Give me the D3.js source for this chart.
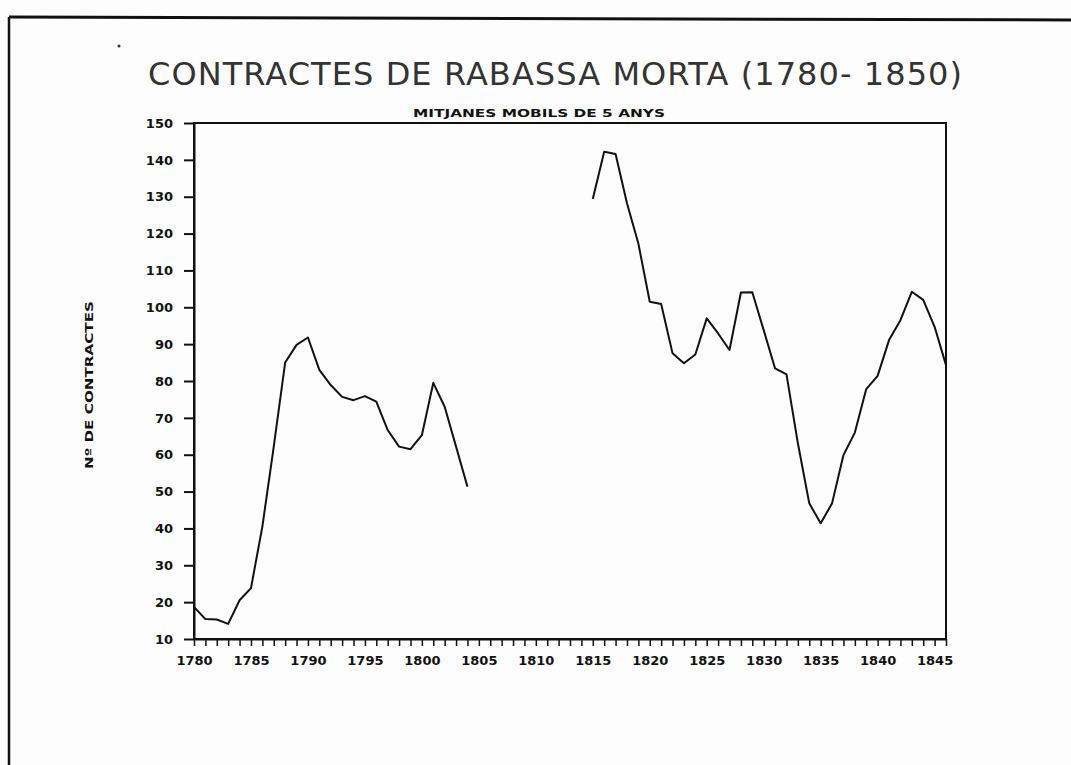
<!DOCTYPE html>
<html>
<head>
<meta charset="utf-8">
<script src="https://cdn.jsdelivr.net/npm/d3@7"></script>
<style>
  body { margin: 0; background: #fdfdfd; }
  svg { display: block; }
</style>
</head>
<body>
<div id="chart"></div>
<script>
// Data (5-year moving averages)
const years1 = [1780, 1781, 1782, 1783, 1784, 1785, 1786, 1787, 1788, 1789, 1790, 1791, 1792,
  1793, 1794, 1795, 1796, 1797, 1798, 1799, 1800, 1801, 1802, 1803, 1804];
const values1 = [18.7, 15.4, 15.3, 14.1, 20.5, 23.8, 40.5, 62.2, 85.0, 89.8, 91.8, 83.0, 78.9,
  75.7, 74.8, 75.9, 74.4, 66.7, 62.2, 61.5, 65.3, 79.5, 73.0, 62.2, 51.3];
const years2 = [1815, 1816, 1817, 1818, 1819, 1820, 1821, 1822, 1823, 1824, 1825, 1826, 1827,
  1828, 1829, 1830, 1831, 1832, 1833, 1834, 1835, 1836, 1837, 1838, 1839, 1840, 1841, 1842,
  1843, 1844, 1845, 1846];
const values2 = [129.4, 142.2, 141.6, 128.2, 117.3, 101.5, 100.9, 87.5, 84.8, 87.2, 97.0, 92.9,
  88.4, 104.0, 104.1, 93.8, 83.4, 81.8, 63.1, 46.8, 41.4, 46.8, 59.9, 66.0, 77.8, 81.4, 91.1,
  96.5, 104.2, 102.0, 94.7, 84.3];
const xTickLabels = [1780, 1785, 1790, 1795, 1800, 1805, 1810, 1815, 1820, 1825, 1830, 1835, 1840, 1845];
const yTickLabels = [10, 20, 30, 40, 50, 60, 70, 80, 90, 100, 110, 120, 130, 140, 150];

const width = 1071;
const height = 765;
const margin = {top: 123, right: 125, bottom: 126, left: 194};

const svg = d3.select("#chart")
  .append("svg")
  .attr("width", width)
  .attr("height", height);

// page border (top and left edge of the scanned sheet)
svg.append("line")
  .attr("x1", 9).attr("y1", 17).attr("x2", 1071).attr("y2", 20)
  .attr("stroke", "#111").attr("stroke-width", 3);
svg.append("line")
  .attr("x1", 9).attr("y1", 17).attr("x2", 9).attr("y2", 765)
  .attr("stroke", "#111").attr("stroke-width", 2.5);

// small mark near the title
svg.append("circle").attr("cx", 119).attr("cy", 46).attr("r", 1.5).attr("fill", "#333");

// Scales
const x = d3.scaleLinear()
  .domain([1780, 1846])
  .range([margin.left, width - margin.right]);
const y = d3.scaleLinear()
  .domain([10, 150])
  .range([height - margin.bottom, margin.top]);

const font = "DejaVu Sans, sans-serif";

// Title and subtitle
svg.append("text")
  .attr("x", 148).attr("y", 85)
  .attr("textLength", 814)
  .attr("lengthAdjust", "spacing")
  .style("font-family", font)
  .style("font-size", "32px")
  .style("font-weight", "normal")
  .attr("fill", "#333")
  .text("CONTRACTES DE RABASSA MORTA (1780- 1850)");

svg.append("text")
  .attr("x", 413).attr("y", 117)
  .attr("textLength", 252)
  .attr("lengthAdjust", "spacingAndGlyphs")
  .style("font-family", font)
  .style("font-size", "10px")
  .style("font-weight", "bold")
  .attr("fill", "#111")
  .text("MITJANES MOBILS DE 5 ANYS");

// Y axis title
svg.append("text")
  .attr("transform", "translate(93,385) rotate(-90)")
  .attr("text-anchor", "middle")
  .attr("textLength", 168)
  .attr("lengthAdjust", "spacingAndGlyphs")
  .style("font-family", font)
  .style("font-size", "11px")
  .style("font-weight", "bold")
  .attr("fill", "#111")
  .text("Nº DE CONTRACTES");

// Plot frame
svg.append("rect")
  .attr("x", x(1780)).attr("y", y(150))
  .attr("width", x(1846) - x(1780))
  .attr("height", y(10) - y(150))
  .attr("fill", "none")
  .attr("stroke", "#111")
  .attr("stroke-width", 2);

// Y axis
const yAxis = svg.append("g")
  .attr("transform", `translate(${x(1780)},0)`)
  .call(d3.axisLeft(y).tickValues(yTickLabels).tickSize(10).tickPadding(11).tickSizeOuter(0));
yAxis.select(".domain").attr("stroke", "#111").attr("stroke-width", 2);
yAxis.selectAll(".tick line").attr("stroke", "#111").attr("stroke-width", 2);
yAxis.selectAll(".tick text")
  .style("font-family", font)
  .style("font-size", "13px")
  .style("font-weight", "bold")
  .attr("fill", "#111");

// X axis: a tick every year, a label every 5 years
const xAxis = svg.append("g")
  .attr("transform", `translate(0,${y(10)})`)
  .call(d3.axisBottom(x).tickValues(d3.range(1780, 1847)).tickSize(7).tickPadding(10).tickSizeOuter(0)
    .tickFormat(d => xTickLabels.includes(d) ? d : ""));
xAxis.select(".domain").attr("stroke", "#111").attr("stroke-width", 2);
xAxis.selectAll(".tick line").attr("stroke", "#111").attr("stroke-width", 1.5);
xAxis.selectAll(".tick text")
  .style("font-family", font)
  .style("font-size", "13px")
  .style("font-weight", "bold")
  .attr("fill", "#111");

// Lines (two segments, gap 1805-1814)
const line = d3.line()
  .x(d => x(d[0]))
  .y(d => y(d[1]));

[d3.zip(years1, values1), d3.zip(years2, values2)].forEach(seg => {
  svg.append("path")
    .datum(seg)
    .attr("d", line)
    .attr("fill", "none")
    .attr("stroke", "#111")
    .attr("stroke-width", 2)
    .attr("stroke-linejoin", "round");
});
</script>
</body>
</html>
